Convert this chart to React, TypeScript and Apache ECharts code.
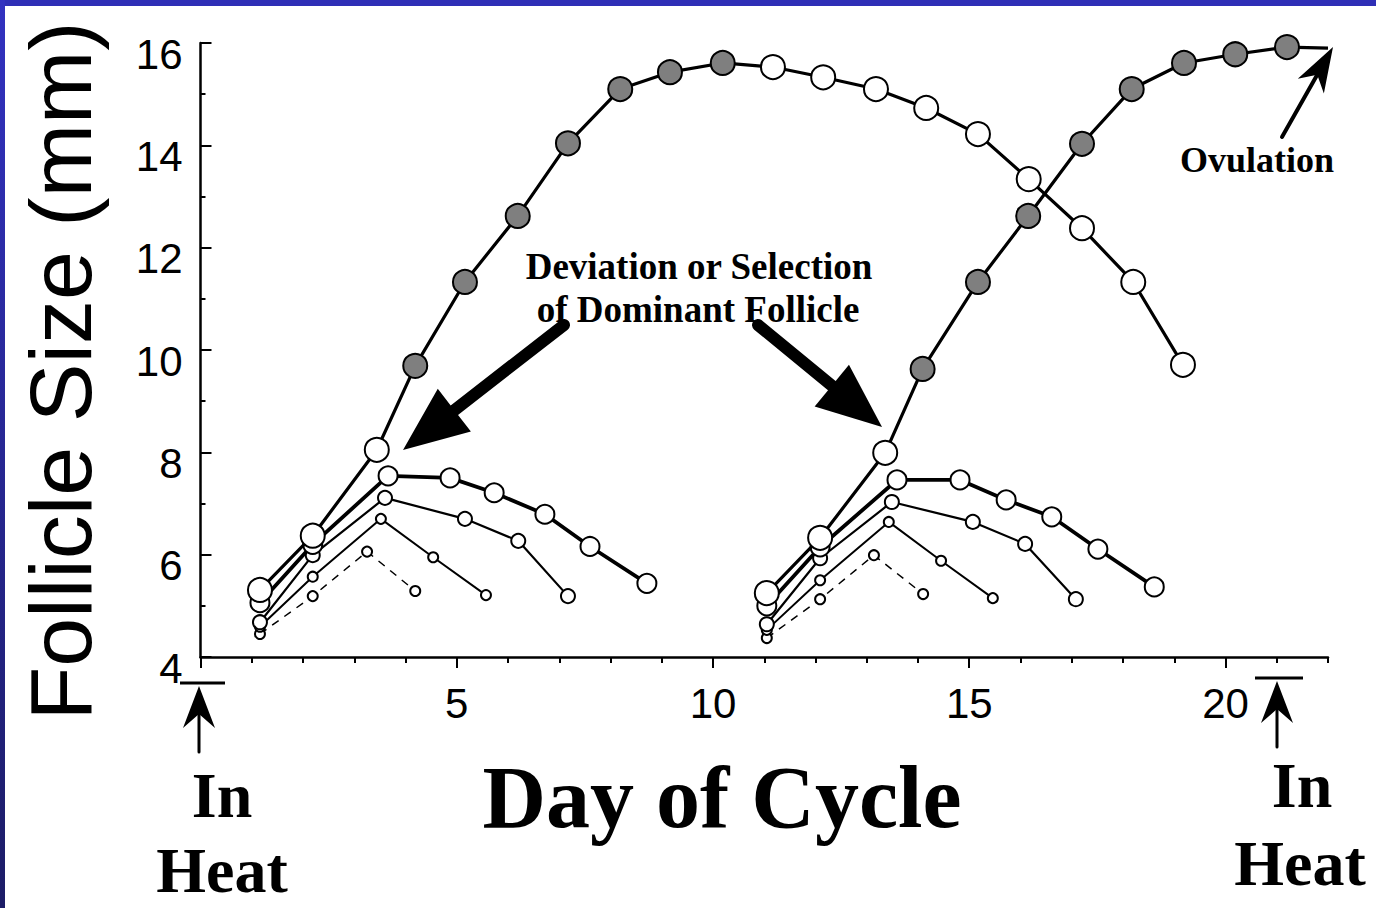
import React, { useEffect, useRef } from 'react';
import * as echarts from 'echarts';

// ---- Data (day of cycle, follicle size in mm) ----
// First follicular wave
const dom1Days = [1.16, 2.19, 3.44, 4.19, 5.16, 6.19, 7.17, 8.19, 9.16, 10.19, 11.17, 12.15, 13.18, 14.16, 15.17, 16.16, 17.2, 18.2, 19.17];
const dom1Sizes = [5.31, 6.37, 8.05, 9.69, 11.33, 12.62, 14.04, 15.1, 15.43, 15.61, 15.53, 15.33, 15.1, 14.73, 14.22, 13.34, 12.38, 11.33, 9.71];
const dom1Marks = ['o', 'o', 'o', 'f', 'f', 'f', 'f', 'f', 'f', 'f', 'o', 'o', 'o', 'o', 'o', 'o', 'o', 'o', 'o'];

const sub1aDays = [1.16, 2.19, 3.66, 4.87, 5.73, 6.72, 7.6, 8.71];
const sub1aSizes = [5.06, 6.2, 7.54, 7.5, 7.21, 6.79, 6.16, 5.44];
const sub2aDays = [1.16, 2.19, 3.6, 5.16, 6.2, 7.17];
const sub2aSizes = [4.68, 5.99, 7.11, 6.7, 6.27, 5.19];
const sub3aDays = [1.16, 2.19, 3.52, 4.54, 5.57];
const sub3aSizes = [4.59, 5.57, 6.7, 5.95, 5.21];
const dashADays = [1.16, 2.19, 3.25, 4.19];
const dashASizes = [4.45, 5.19, 6.06, 5.29];

// Second follicular wave
const dom2Days = [11.05, 12.09, 13.36, 14.09, 15.17, 16.15, 17.2, 18.17, 19.19, 20.19, 21.2, 22.0];
const dom2Sizes = [5.25, 6.33, 7.99, 9.63, 11.33, 12.62, 14.03, 15.1, 15.61, 15.78, 15.92, 15.9];
const dom2Marks = ['o', 'o', 'o', 'f', 'f', 'f', 'f', 'f', 'f', 'f', 'f', '-'];

const sub1bDays = [11.05, 12.09, 13.59, 14.82, 15.72, 16.61, 17.51, 18.61];
const sub1bSizes = [5.0, 6.15, 7.46, 7.46, 7.07, 6.74, 6.11, 5.37];
const sub2bDays = [11.05, 12.09, 13.49, 15.07, 16.09, 17.08];
const sub2bSizes = [4.64, 5.93, 7.03, 6.64, 6.21, 5.13];
const sub3bDays = [11.05, 12.09, 13.43, 14.45, 15.46];
const sub3bSizes = [4.53, 5.5, 6.64, 5.88, 5.15];
const dashBDays = [11.05, 12.09, 13.14, 14.1];
const dashBSizes = [4.37, 5.13, 5.99, 5.23];

// Axis ticks
const xLabelTicks = [5, 10, 15, 20];
const xMajorTicks = [0, 5, 10, 15, 20];

const SANS = "'Liberation Sans', Arial, Helvetica, sans-serif";
const SERIF = "'Liberation Serif', 'Times New Roman', Times, serif";
const GRAY = '#7f7f7f';

function pts(days: number[], sizes: number[], marks?: string[]) {
  return days.map((d, i) => {
    const m = marks ? marks[i] : 'o';
    const item: any = { value: [d, sizes[i]], itemStyle: { color: m === 'f' ? GRAY : '#ffffff' } };
    if (m === '-') item.symbol = 'none';
    return item;
  });
}

function lineSeries(data: any[], width: number, symbolSize: number, dashed = false, z = 2) {
  return {
    type: 'line',
    data,
    symbol: 'circle',
    symbolSize,
    showSymbol: true,
    showAllSymbol: true,
    silent: true,
    z,
    lineStyle: { color: '#000', width, type: dashed ? [8, 7] : 'solid' },
    itemStyle: { color: '#fff', borderColor: '#000', borderWidth: 2 },
    emphasis: { disabled: true },
  };
}

function arrow(tail: number[], tip: number[], headLen: number, halfW: number, shaftW: number, notch = 0) {
  const dx = tip[0] - tail[0];
  const dy = tip[1] - tail[1];
  const L = Math.hypot(dx, dy);
  const ux = dx / L, uy = dy / L;
  const nx = -uy, ny = ux;
  const bx = tip[0] - headLen * ux, by = tip[1] - headLen * uy;
  const kx = tip[0] - (headLen - notch) * ux, ky = tip[1] - (headLen - notch) * uy;
  return [
    {
      type: 'line',
      shape: { x1: tail[0], y1: tail[1], x2: kx, y2: ky },
      style: { stroke: '#000', lineWidth: shaftW, lineCap: 'round' },
    },
    {
      type: 'polygon',
      shape: {
        points: [
          [tip[0], tip[1]],
          [bx + halfW * nx, by + halfW * ny],
          [kx, ky],
          [bx - halfW * nx, by - halfW * ny],
        ],
      },
      style: { fill: '#000' },
    },
  ];
}

function txt(text: string, x: number, y: number, size: number, family: string, bold: boolean, rotation = 0) {
  return {
    type: 'text',
    x,
    y,
    rotation,
    style: {
      text,
      fontSize: size,
      fontFamily: family,
      fontWeight: bold ? 'bold' : 'normal',
      fill: '#000',
      textAlign: 'center',
      textVerticalAlign: 'middle',
    },
  };
}

export default function App() {
  const ref = useRef<HTMLDivElement>(null);
  useEffect(() => {
    const chart = echarts.init(ref.current!, null, { renderer: 'svg' });
    const option: any = {
      animation: false,
      backgroundColor: '#ffffff',
      grid: { left: 200.5, right: 48, top: 43, bottom: 251, containLabel: false },
      xAxis: [
        {
          type: 'value',
          position: 'bottom',
          min: 0,
          max: 22,
          interval: 1,
          splitLine: { show: false },
          axisLine: { show: true, lineStyle: { color: '#000', width: 2.5 } },
          axisTick: { show: true, length: 6, lineStyle: { color: '#000', width: 2 } },
          axisLabel: {
            show: true,
            color: '#000',
            fontSize: 42,
            fontFamily: SANS,
            margin: 25,
            formatter: (v: number) => (xLabelTicks.indexOf(v) >= 0 ? String(v) : ''),
          },
        },
        {
          type: 'value',
          position: 'bottom',
          min: 0,
          max: 22,
          axisLine: { show: false },
          splitLine: { show: false },
          axisLabel: { show: false },
          axisTick: { show: true, length: 11, customValues: xMajorTicks, lineStyle: { color: '#000', width: 2 } },
        },
      ],
      yAxis: {
        type: 'value',
        min: 4,
        max: 16,
        interval: 2,
        splitLine: { show: false },
        axisLine: { show: true, lineStyle: { color: '#000', width: 2.5 } },
        axisTick: { show: true, inside: true, length: 11, lineStyle: { color: '#000', width: 2 } },
        minorTick: { show: true, splitNumber: 2, length: 5, lineStyle: { color: '#000', width: 2 } },
        axisLabel: {
          color: '#000',
          fontSize: 42,
          fontFamily: SANS,
          margin: 18,
          lineHeight: 22,
          verticalAlign: 'middle',
          formatter: (v: number) => '\n' + v,
        },
      },
      series: [
        lineSeries(pts(dashADays, dashASizes), 1.5, 10, true, 2),
        lineSeries(pts(sub3aDays, sub3aSizes), 2, 10, false, 3),
        lineSeries(pts(sub2aDays, sub2aSizes), 2.2, 14, false, 4),
        lineSeries(pts(sub1aDays, sub1aSizes), 3.8, 19, false, 5),
        lineSeries(pts(dom1Days, dom1Sizes, dom1Marks), 3.2, 24, false, 6),
        lineSeries(pts(dashBDays, dashBSizes), 1.5, 10, true, 2),
        lineSeries(pts(sub3bDays, sub3bSizes), 2, 10, false, 3),
        lineSeries(pts(sub2bDays, sub2bSizes), 2.2, 14, false, 4),
        lineSeries(pts(sub1bDays, sub1bSizes), 3.8, 19, false, 5),
        lineSeries(pts(dom2Days, dom2Sizes, dom2Marks), 3.2, 24, false, 6),
      ],
      graphic: {
        elements: [
          // blue frame
          { type: 'rect', shape: { x: 0, y: 0, width: 1376, height: 6 }, style: { fill: '#2f2fb6' }, z: 100 },
          {
            type: 'rect',
            shape: { x: 0, y: 0, width: 5, height: 908 },
            style: {
              fill: new echarts.graphic.LinearGradient(0, 0, 0, 1, [
                { offset: 0, color: '#3232c0' },
                { offset: 1, color: '#1c1c66' },
              ]),
            },
            z: 100,
          },
          // titles
          txt('Follicle Size (mm)', 60, 371, 88, SANS, false, Math.PI / 2),
          txt('Day of Cycle', 722, 797, 88, SERIF, true),
          txt('In', 222, 795, 64, SERIF, true),
          txt('Heat', 222, 870, 64, SERIF, true),
          txt('In', 1302, 785, 64, SERIF, true),
          txt('Heat', 1300, 863, 64, SERIF, true),
          txt('Ovulation', 1257, 160, 36, SERIF, true),
          txt('Deviation or Selection', 699, 266, 37, SERIF, true),
          txt('of Dominant Follicle', 698, 309, 37, SERIF, true),
          // big arrows
          ...arrow([564, 325], [403, 450], 65, 27, 12),
          ...arrow([758, 325], [882, 427], 65, 27, 12),
          // ovulation arrow
          ...arrow([1282, 137], [1333, 47], 45, 15, 4, 13),
          // in heat markers
          { type: 'line', shape: { x1: 180, y1: 683, x2: 225, y2: 683 }, style: { stroke: '#000', lineWidth: 3 } },
          ...arrow([199, 752], [199, 686], 42, 16, 3, 14),
          { type: 'line', shape: { x1: 1255, y1: 678, x2: 1303, y2: 678 }, style: { stroke: '#000', lineWidth: 3 } },
          ...arrow([1277, 747], [1277, 681], 42, 16, 3, 14),
        ],
      },
    };
    chart.setOption(option);
    return () => chart.dispose();
  }, []);
  return (
    <div
      ref={ref}
      style={{ position: 'fixed', left: 0, top: 0, width: 1376, height: 908, background: '#fff' }}
    />
  );
}
